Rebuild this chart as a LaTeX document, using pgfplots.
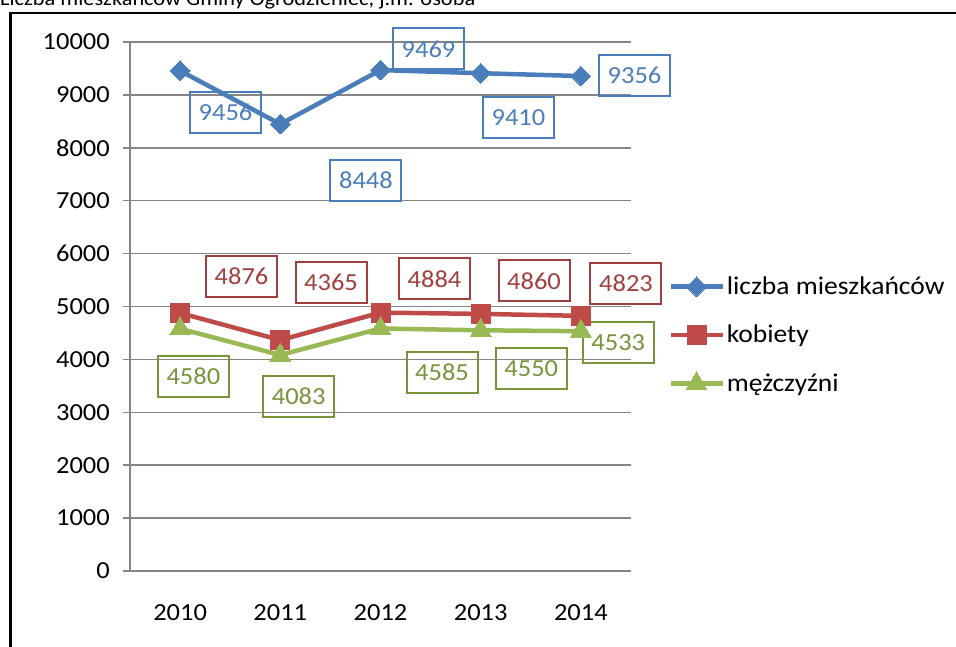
\documentclass[border=0pt]{standalone}
\usepackage{pgfplots}
\pgfplotsset{compat=1.18}
\usepackage{fontspec}
\setmainfont{Carlito}[FakeStretch=1.08]
\definecolor{cblue}{HTML}{4A7EBB}
\definecolor{cred}{HTML}{BE4B48}
\definecolor{cgreen}{HTML}{98B954}
\definecolor{tblue}{HTML}{4A7EBB}
\definecolor{tred}{HTML}{A0403E}
\definecolor{tgreen}{HTML}{77933C}
\definecolor{axgray}{HTML}{868686}
\newcommand{\bigf}{\fontsize{24.5}{29}\selectfont}
\newcommand{\legf}{\fontsize{25.5}{30}\selectfont}
\begin{document}
\begin{tikzpicture}[x=1pt,y=1pt]
\path[use as bounding box] (0,0) rectangle (956,647);
\clip (0,0) rectangle (956,647);
\node[anchor=base west, inner sep=0pt, font=\fontsize{20.7}{25}\selectfont] at (0,641) {Liczba mieszkańców Gminy Ogrodzieniec, j.m. osoba};
\draw[line width=2.5pt] (10.5,-10) -- (10.5,634) -- (980,634);
\begin{axis}[
  at={(130pt,76pt)}, anchor=south west,
  scale only axis, width=501pt, height=529pt,
  xmin=-0.5, xmax=4.5, ymin=0, ymax=10000,
  clip=false,
  axis lines*=left,
  axis line style={axgray, line width=1.5pt},
  xtick={0,1,2,3,4},
  xticklabels={2010,2011,2012,2013,2014},
  minor xtick={-0.5,0.5,1.5,2.5,3.5,4.5},
  xtick style={draw=none},
  minor tick style={axgray, line width=1.5pt},
  minor tick length=7pt,
  ytick={0,1000,...,10000},
  scaled y ticks=false,
  ytick style={axgray, line width=1.5pt},
  major tick length=7pt,
  tick align=outside,
  ymajorgrids,
  major grid style={axgray, line width=1.5pt},
  /pgf/number format/assume math mode=true,
  /pgf/number format/1000 sep={},
  tick label style={font=\bigf},
  yticklabel style={inner sep=0pt, xshift=-13pt},
  xticklabel style={inner sep=0pt, yshift=-26pt},
  legend style={at={(1.074,0.446)}, anchor=west, draw=none, fill=none,
    font=\legf, row sep=25pt, inner sep=0pt, cells={anchor=west}},
  legend image code/.code={\draw[#1, mark repeat=2, mark phase=2] plot coordinates {(0pt,0pt) (26pt,0pt) (52pt,0pt)};},
]
\addplot[cblue, line width=4.5pt, mark=square*, mark size=7pt, mark options={rotate=45, line width=0pt, fill=cblue}]
  coordinates {(0,9456) (1,8448) (2,9469) (3,9410) (4,9356)};
\addlegendentry{liczba mieszkańców}
\addplot[cred, line width=4.5pt, mark=square*, mark size=9.5pt, mark options={line width=0pt, fill=cred}]
  coordinates {(0,4876) (1,4365) (2,4884) (3,4860) (4,4823)};
\addlegendentry{kobiety}
\addplot[cgreen, line width=4.5pt, mark=triangle*, mark size=12pt, mark options={line width=0pt, fill=cgreen}]
  coordinates {(0,4580) (1,4083) (2,4585) (3,4550) (4,4533)};
\addlegendentry{mężczyźni}
\tikzset{lb/.style={draw, line width=2pt, minimum width=71pt, minimum height=41pt, inner sep=0pt, font=\bigf}}
\node[lb, tblue] at (axis cs:0.453,8667) {9456};
\node[lb, tblue] at (axis cs:1.855,7391) {8448};
\node[lb, tblue] at (axis cs:2.479,9868) {9469};
\node[lb, tblue] at (axis cs:3.377,8569) {9410};
\node[lb, tblue] at (axis cs:4.535,9367) {9356};
\node[lb, tred] at (axis cs:0.613,5571) {4876};
\node[lb, tred] at (axis cs:1.506,5454) {4365};
\node[lb, tred] at (axis cs:2.539,5520) {4884};
\node[lb, tred] at (axis cs:3.532,5482) {4860};
\node[lb, tred] at (axis cs:4.450,5444) {4823};
\node[lb, tgreen] at (axis cs:0.132,3683) {4580};
\node[lb, tgreen] at (axis cs:1.184,3304) {4083};
\node[lb, tgreen] at (axis cs:2.614,3752) {4585};
\node[lb, tgreen] at (axis cs:3.505,3824) {4550};
\node[lb, tgreen] at (axis cs:4.373,4320) {4533};
\end{axis}
\end{tikzpicture}
\end{document}
